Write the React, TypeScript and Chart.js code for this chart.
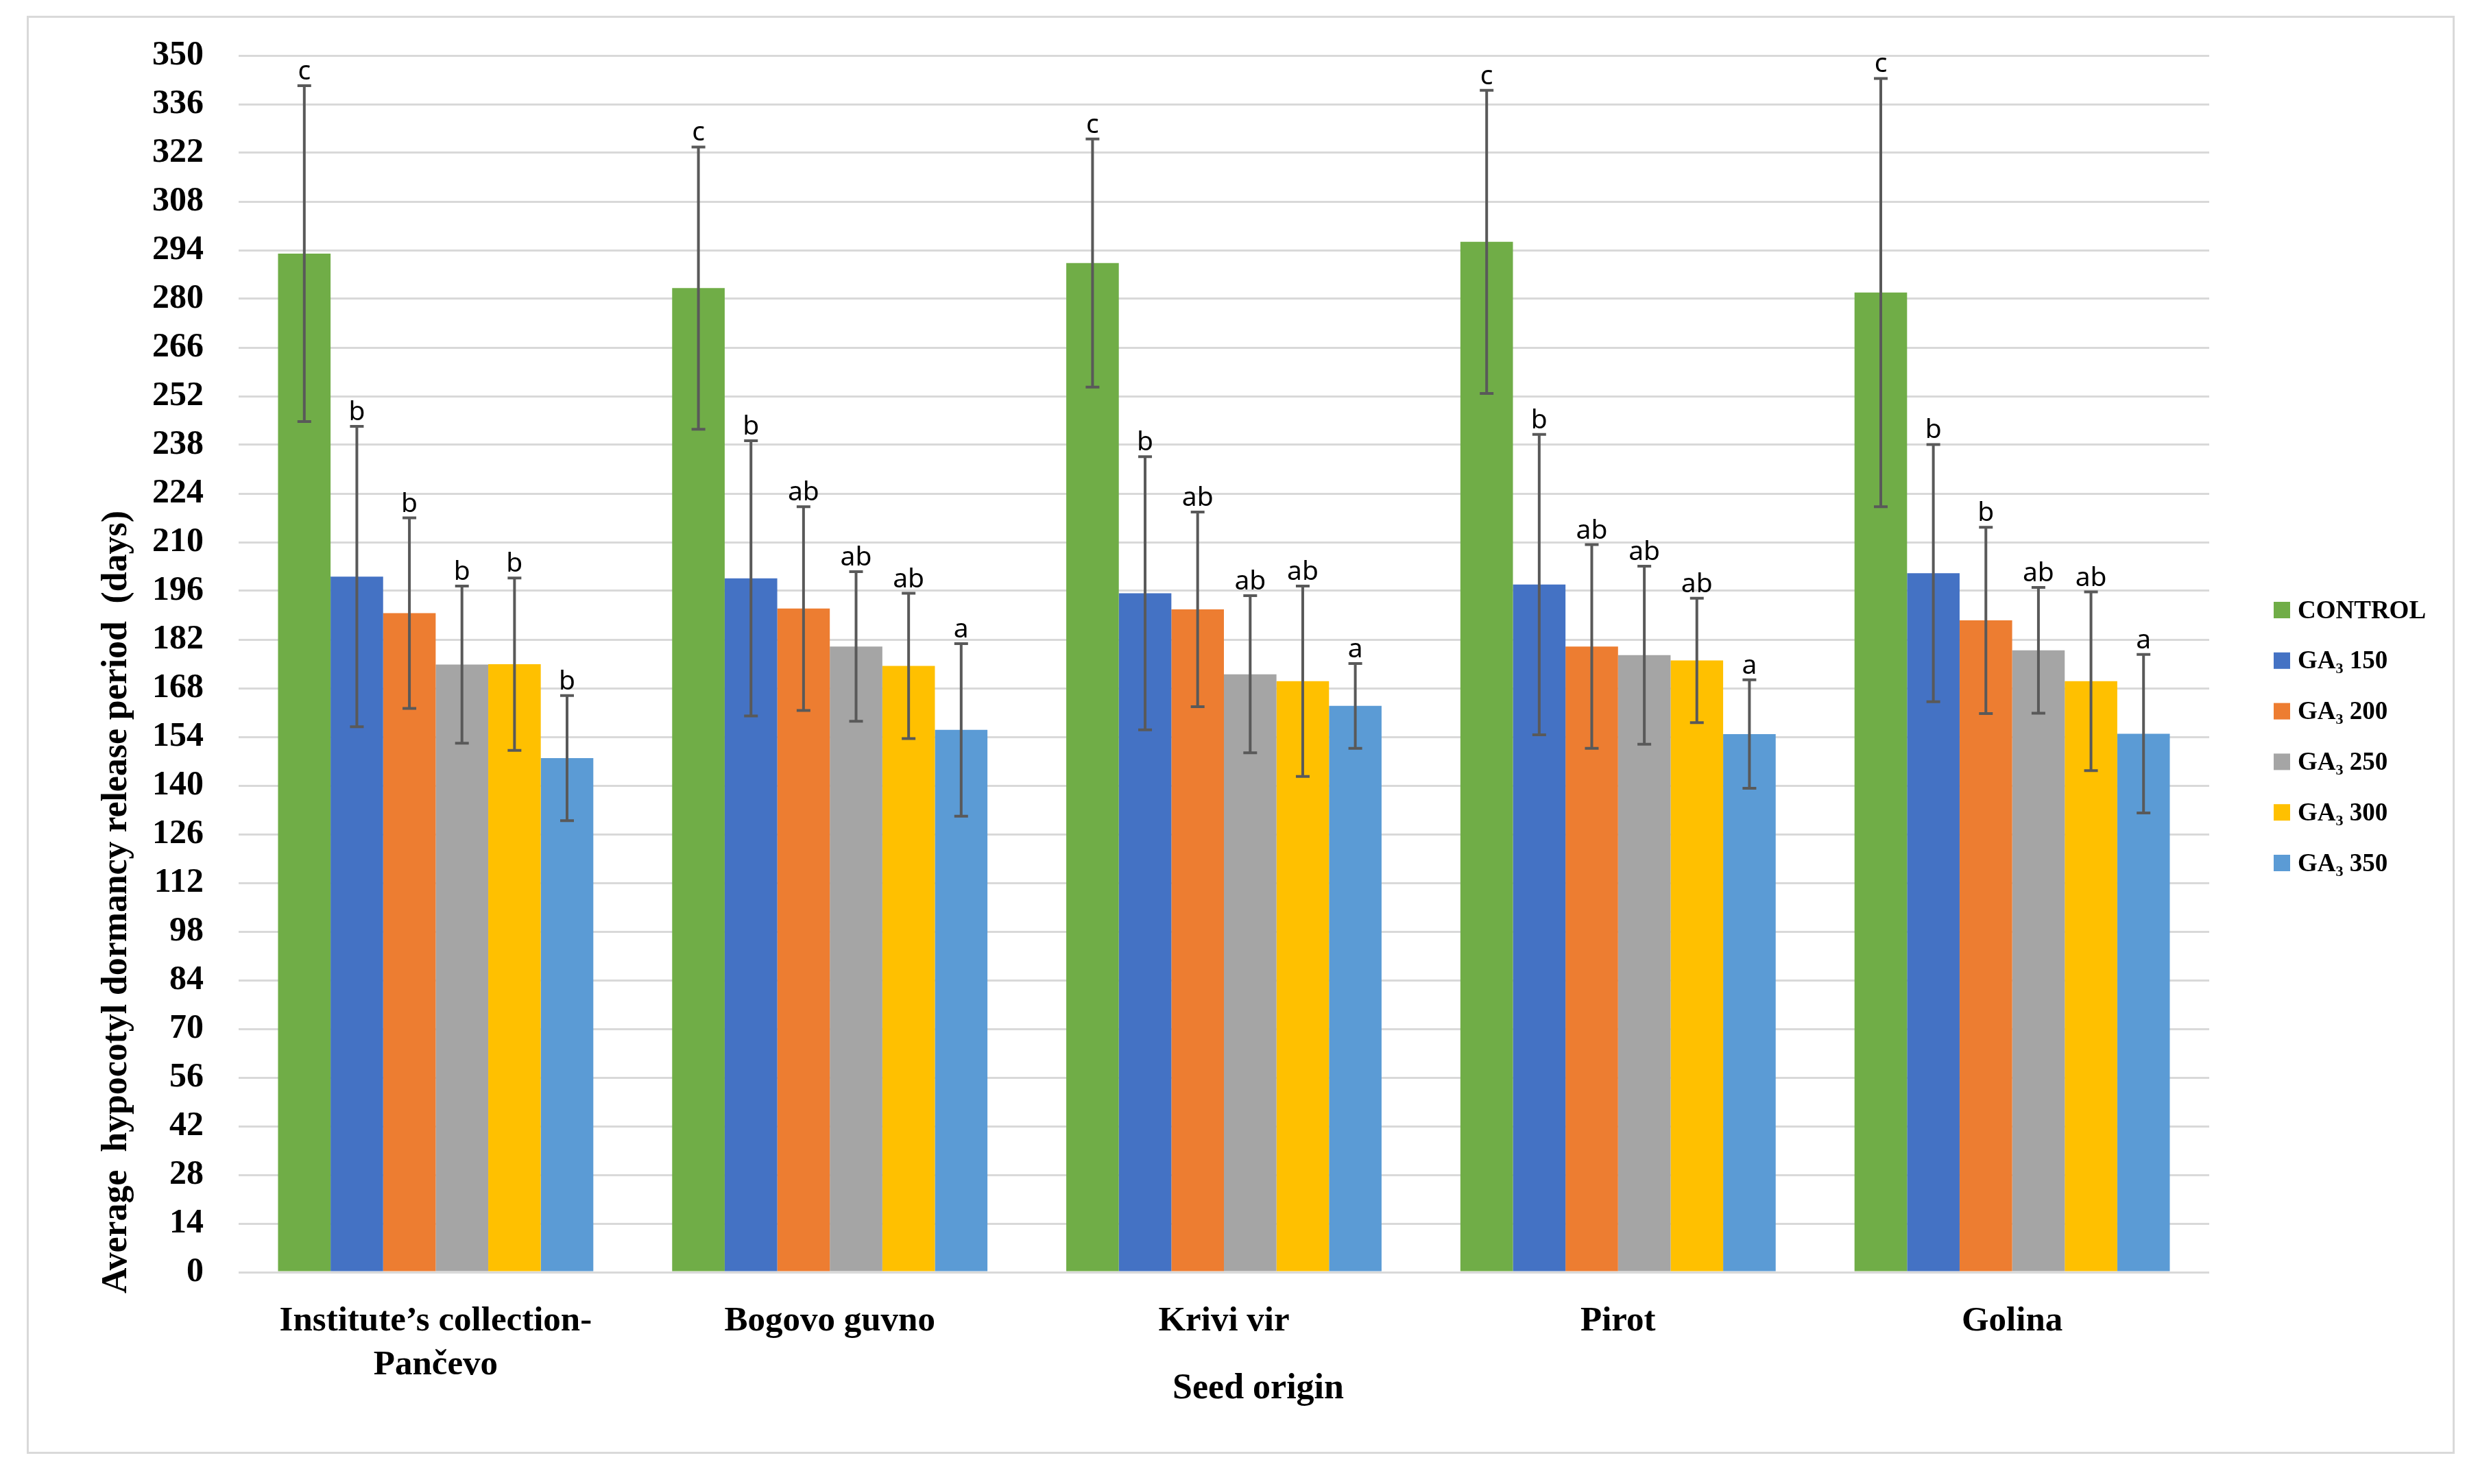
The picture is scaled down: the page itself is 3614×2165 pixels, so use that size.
import React, { useEffect, useRef } from "react";
import { Chart, registerables } from "chart.js";

Chart.register(...registerables);

const categories: (string | string[])[] = [
  ["Institute’s collection-", "Pančevo"],
  "Bogovo guvno",
  "Krivi vir",
  "Pirot",
  "Golina",
];

const seriesNames = ["CONTROL", "GA₃ 150", "GA₃ 200", "GA₃ 250", "GA₃ 300", "GA₃ 350"];
const seriesColors = ["#70AD47", "#4472C4", "#ED7D31", "#A5A5A5", "#FFC000", "#5B9BD5"];

const controlValues = [293.0, 283.1, 290.3, 296.4, 281.8];
const ga150Values = [200.1, 199.6, 195.3, 197.8, 201.1];
const ga200Values = [189.6, 190.9, 190.7, 180.0, 187.5];
const ga250Values = [174.8, 180.0, 172.0, 177.5, 178.9];
const ga300Values = [174.9, 174.4, 170.0, 176.0, 170.0];
const ga350Values = [147.9, 156.0, 162.9, 154.8, 154.9];

const controlErrors = [48.3, 40.6, 35.7, 43.6, 61.6];
const ga150Errors = [43.2, 39.6, 39.3, 43.2, 37.0];
const ga200Errors = [27.4, 29.3, 28.0, 29.3, 26.8];
const ga250Errors = [22.6, 21.5, 22.6, 25.6, 18.1];
const ga300Errors = [24.8, 20.9, 27.4, 17.9, 25.7];
const ga350Errors = [18.0, 24.8, 12.2, 15.6, 22.8];

const controlLetters = ["c", "c", "c", "c", "c"];
const ga150Letters = ["b", "b", "b", "b", "b"];
const ga200Letters = ["b", "ab", "ab", "ab", "b"];
const ga250Letters = ["b", "ab", "ab", "ab", "ab"];
const ga300Letters = ["b", "ab", "ab", "ab", "ab"];
const ga350Letters = ["b", "a", "a", "a", "a"];

const yMin = 0;
const yMax = 350;
const yStep = 14;

const xTitle = "Seed origin";
const yTitle = "Average  hypocotyl dormancy release period  (days)";

const allValues = [controlValues, ga150Values, ga200Values, ga250Values, ga300Values, ga350Values];
const allErrors = [controlErrors, ga150Errors, ga200Errors, ga250Errors, ga300Errors, ga350Errors];
const allLetters = [controlLetters, ga150Letters, ga200Letters, ga250Letters, ga300Letters, ga350Letters];

const W = 3614;
const H = 2165;
const SERIF = "'Liberation Serif', 'DejaVu Serif', serif";

const errorBarPlugin = {
  id: "errorBarsLetters",
  afterDatasetsDraw(chart: any) {
    const ctx = chart.ctx;
    const yScale = chart.scales.y;
    chart.data.datasets.forEach((ds: any, i: number) => {
      const meta = chart.getDatasetMeta(i);
      meta.data.forEach((bar: any, j: number) => {
        const v = ds.data[j];
        const e = ds.errors[j];
        const x = bar.x;
        const top = yScale.getPixelForValue(v + e);
        const bot = yScale.getPixelForValue(v - e);
        ctx.save();
        ctx.strokeStyle = "#595959";
        ctx.lineWidth = 4;
        ctx.beginPath();
        ctx.moveTo(x, top);
        ctx.lineTo(x, bot);
        ctx.moveTo(x - 10, top);
        ctx.lineTo(x + 10, top);
        ctx.moveTo(x - 10, bot);
        ctx.lineTo(x + 10, bot);
        ctx.stroke();
        ctx.fillStyle = "#000000";
        ctx.font = "39px 'Noto Sans', sans-serif";
        ctx.textAlign = "center";
        ctx.textBaseline = "alphabetic";
        ctx.fillText(ds.letters[j], x, top - 9);
        ctx.restore();
      });
    });
  },
};

const legendAndTitlesPlugin = {
  id: "legendAndTitles",
  afterDraw(chart: any) {
    const ctx = chart.ctx;
    ctx.save();
    // legend
    const legendX = 3316;
    const legendY0 = 890;
    const legendStep = 73.8;
    const box = 24;
    ctx.font = `bold 37px ${SERIF}`;
    ctx.textAlign = "left";
    ctx.textBaseline = "middle";
    chart.data.datasets.forEach((ds: any, i: number) => {
      const cy = legendY0 + i * legendStep;
      ctx.fillStyle = ds.backgroundColor;
      ctx.fillRect(legendX, cy - box / 2, box, box);
      ctx.fillStyle = "#000000";
      ctx.fillText(ds.label, legendX + 35, cy + 2);
    });
    // x title
    ctx.font = `bold 52px ${SERIF}`;
    ctx.textAlign = "center";
    ctx.textBaseline = "alphabetic";
    ctx.fillText(xTitle, 1835, 2040);
    // y title (fit to target length)
    const target = 1141;
    ctx.font = `bold 50px ${SERIF}`;
    const m = ctx.measureText(yTitle).width;
    const fs = (50 * target) / m;
    ctx.font = `bold ${fs.toFixed(1)}px ${SERIF}`;
    ctx.translate(184, 1316);
    ctx.rotate(-Math.PI / 2);
    ctx.fillText(yTitle, 0, 0);
    ctx.restore();
  },
};

export default function App() {
  const canvasRef = useRef<HTMLCanvasElement | null>(null);

  useEffect(() => {
    document.body.style.margin = "0";
    document.body.style.overflow = "hidden";
    const canvas = canvasRef.current;
    if (!canvas) return;
    const chart = new Chart(canvas, {
      type: "bar",
      data: {
        labels: categories,
        datasets: seriesNames.map((name, i) => ({
          label: name,
          data: allValues[i],
          errors: allErrors[i],
          letters: allLetters[i],
          backgroundColor: seriesColors[i],
          borderWidth: 0,
          categoryPercentage: 0.8,
          barPercentage: 1.0,
        })) as any,
      },
      options: {
        animation: false,
        responsive: false,
        devicePixelRatio: 1,
        layout: { padding: { top: 81, right: W - 3222, left: 0, bottom: 0 } },
        plugins: {
          legend: { display: false },
          tooltip: { enabled: false },
          title: { display: false },
        },
        scales: {
          x: {
            grid: { display: false, drawTicks: false },
            border: { display: false },
            ticks: {
              color: "#000000",
              padding: 40,
              maxRotation: 0,
              autoSkip: false,
              font: { family: SERIF, size: 51, weight: "bold", lineHeight: 1.255 },
            },
            afterFit(scale: any) {
              scale.height = H - 1856;
            },
          },
          y: {
            min: yMin,
            max: yMax,
            grid: { color: "#D9D9D9", lineWidth: 3, drawTicks: false },
            border: { display: false },
            ticks: {
              stepSize: yStep,
              color: "#000000",
              padding: 51,
              autoSkip: false,
              font: { family: SERIF, size: 50, weight: "bold" },
            },
            afterFit(scale: any) {
              scale.width = 348;
            },
          },
        },
      } as any,
      plugins: [errorBarPlugin, legendAndTitlesPlugin],
    });
    return () => chart.destroy();
  }, []);

  return (
    <div style={{ position: "absolute", left: 0, top: 0, width: W, height: H, background: "#ffffff" }}>
      <div
        style={{
          position: "absolute",
          left: 39,
          top: 23,
          width: 3541,
          height: 2098,
          border: "3px solid #D9D9D9",
          boxSizing: "border-box",
        }}
      />
      <canvas ref={canvasRef} width={W} height={H} style={{ position: "absolute", left: 0, top: 0, width: W, height: H }} />
    </div>
  );
}
